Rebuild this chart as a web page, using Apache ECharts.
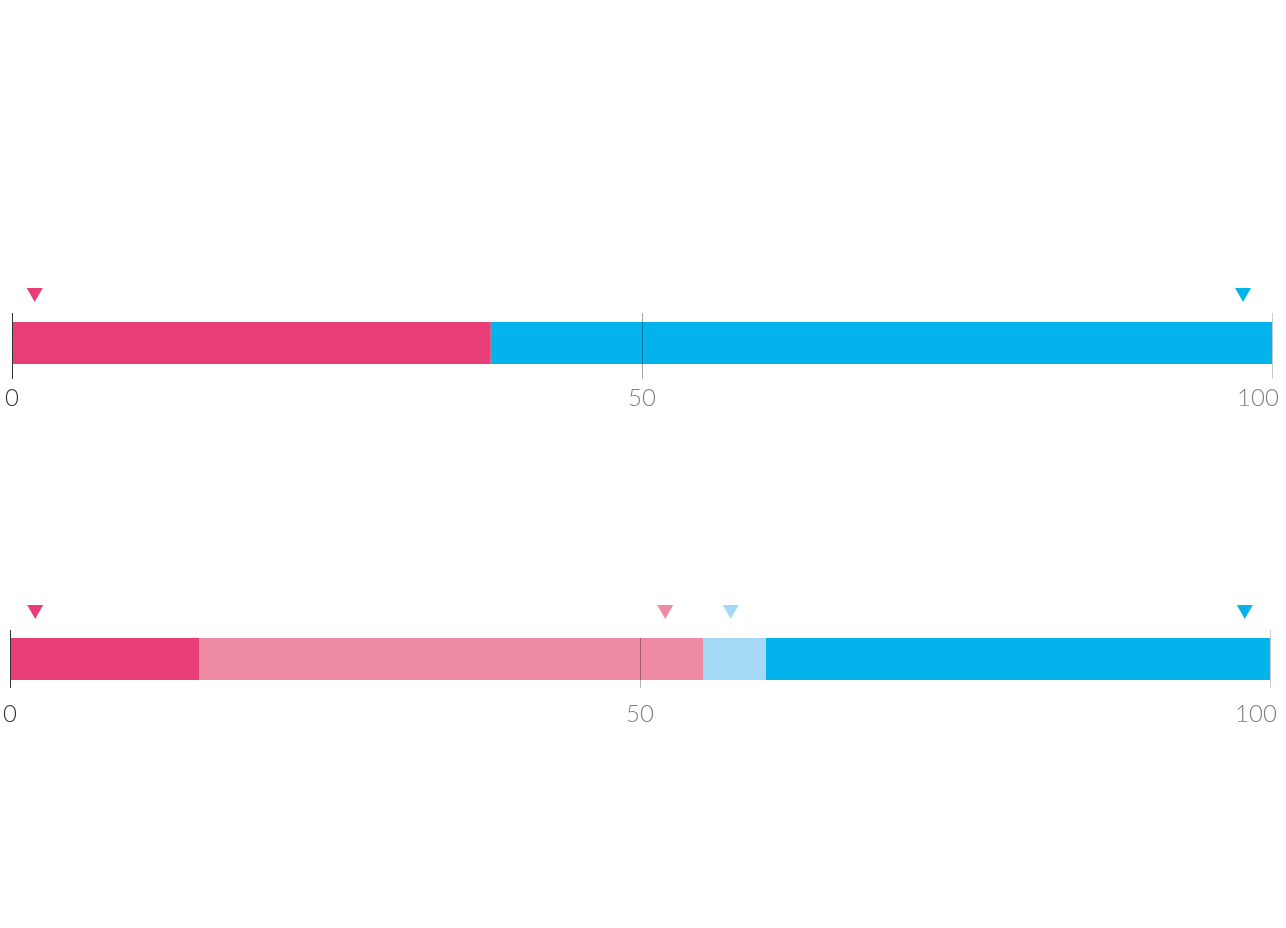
<!DOCTYPE html>
<html><head><meta charset="utf-8">
<script src="https://cdn.jsdelivr.net/npm/echarts@6/dist/echarts.min.js"></script>
<style>html,body{margin:0;padding:0;background:#fff}#c{width:1286px;height:928px}</style>
</head><body><div id="c"></div>
<script>
const tickLabels = ['0', '50', '100'];
const chart1Values = [38, 62];
const chart1Colors = ['#E83D77', '#02B4EB'];
const chart1Markers = [1.8, 97.7];
const chart2Values = [15, 40, 5, 40];
const chart2Colors = ['#E83D77', '#EF8AA4', '#A3D9F5', '#02B4EB'];
const chart2Markers = [2, 52, 57.2, 98];

const FONT = 'Lato';
const charts = [
  {values: chart1Values, colors: chart1Colors, markers: chart1Markers,
   bar: {left: 12, right: 14, top: 322, height: 42},
   frame: {top: 313, height: 66}, off: -48,
   lines: [[0, 0, 66, '#333'], [50, 0, 66, 'rgba(0,0,0,0.35)'], [100, 0, 66, 'rgba(0,0,0,0.2)']]},
  {values: chart2Values, colors: chart2Colors, markers: chart2Markers,
   bar: {left: 10, right: 16, top: 638, height: 42},
   frame: {top: 630, height: 58}, off: -47,
   lines: [[0, 0, 58, '#333'], [50, 8, 58, 'rgba(0,0,0,0.3)'], [100, 0, 58, 'rgba(0,0,0,0.2)']]}
];

const richText = {fontFamily: FONT, fontWeight: 300, fontSize: 24};
const grid = [], xAxis = [], yAxis = [], series = [];
charts.forEach((c, ci) => {
  const gb = grid.length;
  grid.push({left: c.bar.left, right: c.bar.right, top: c.bar.top, height: c.bar.height,
    containLabel: false, outerBoundsMode: 'none'});
  grid.push({left: c.bar.left, right: c.bar.right, top: c.frame.top, height: c.frame.height,
    containLabel: false, outerBoundsMode: 'none'});
  xAxis.push({gridIndex: gb, type: 'value', min: 0, max: 100, interval: 50,
    axisLine: {show: false}, axisTick: {show: false}, splitLine: {show: false},
    axisLabel: {margin: 22, fontFamily: FONT, fontWeight: 300, fontSize: 24, hideOverlap: false,
      rich: {
        d: Object.assign({color: '#333'}, richText),
        g: Object.assign({color: '#7f7f7f'}, richText),
        s: {width: 28, height: 1}
      },
      formatter: (v) => {
        const i = Math.round(v / 50);
        if (i === 0) return '{d|' + tickLabels[i] + '}';
        if (i === 2) return '{g|' + tickLabels[i] + '}{s|}';
        return '{g|' + tickLabels[i] + '}';
      }}});
  xAxis.push({gridIndex: gb + 1, type: 'value', min: 0, max: 100, show: false});
  yAxis.push({gridIndex: gb, type: 'category', data: ['A'], show: false});
  yAxis.push({gridIndex: gb + 1, type: 'value', min: 0, max: c.frame.height, inverse: true, show: false});
  c.values.forEach((v, i) => {
    const s = {type: 'bar', xAxisIndex: gb, yAxisIndex: gb, stack: 'st' + ci, data: [v],
      barWidth: c.bar.height, itemStyle: {color: c.colors[i]}, silent: true, animation: false};
    if (i === 0) {
      s.markPoint = {symbol: 'triangle', symbolRotate: 180, symbolSize: [16, 14],
        symbolOffset: [0, c.off], label: {show: false}, animation: false,
        data: c.markers.map((m, k) => ({coord: [m, 'A'], itemStyle: {color: c.colors[k]}}))};
    }
    series.push(s);
  });
  series.push({type: 'line', xAxisIndex: gb + 1, yAxisIndex: gb + 1, data: [], z: 10, animation: false,
    markLine: {symbol: 'none', silent: true, animation: false, label: {show: false},
      data: c.lines.map(l => [{coord: [l[0], l[1]], lineStyle: {color: l[3], width: 1, type: 'solid'}},
                              {coord: [l[0], l[2]]}])}});
});

const chart = echarts.init(document.getElementById('c'));
chart.setOption({animation: false, grid, xAxis, yAxis, series});
</script></body></html>
